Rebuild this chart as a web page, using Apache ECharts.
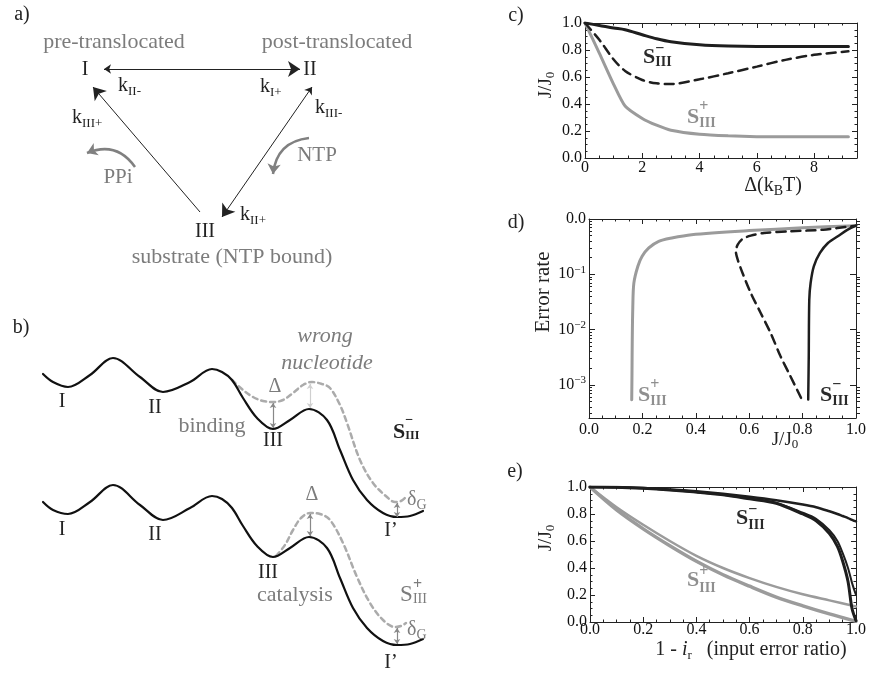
<!DOCTYPE html>
<html><head><meta charset="utf-8">
<script src="https://cdn.jsdelivr.net/npm/echarts@6/dist/echarts.min.js"></script>
<style>html,body{margin:0;padding:0;background:#fff;}#chart{width:869px;height:677px;}</style>
</head><body><div id="chart"></div>
<script>
const FONT = '"Liberation Serif","DejaVu Serif","Times New Roman",serif';

// ===== panel c : J/J0 versus Delta (kBT) =====
const cDelta  = [0, 0.5, 1, 1.4, 2, 2.5, 3, 4, 5, 6, 7, 8, 9.2];
const cSminus = [1.0, 0.982, 0.963, 0.95, 0.913, 0.883, 0.861, 0.839, 0.829, 0.826, 0.826, 0.826, 0.826];
const cMixed  = [1.0, 0.876, 0.73, 0.645, 0.578, 0.553, 0.548, 0.583, 0.628, 0.677, 0.727, 0.764, 0.79];
const cSplus  = [1.0, 0.777, 0.546, 0.385, 0.293, 0.243, 0.206, 0.176, 0.164, 0.158, 0.157, 0.157, 0.157];

// ===== panel d : error rate (log10) versus J/J0 =====
const dJPlus       = [0.160, 0.161, 0.162, 0.164, 0.168, 0.183, 0.199, 0.224, 0.261, 0.310, 0.384, 0.6, 0.8, 1.0];
const dLogErrPlus  = [-3.27, -2.8, -2.2, -1.6, -1.16, -0.855, -0.675, -0.524, -0.404, -0.343, -0.283, -0.21, -0.16, -0.12];
const dJMinus      = [0.821, 0.823, 0.825, 0.830, 0.842, 0.865, 0.895, 0.932, 0.969, 1.0];
const dLogErrMinus = [-3.265, -2.5, -1.458, -1.157, -0.855, -0.614, -0.434, -0.313, -0.193, -0.12];
const dJMixed      = [0.794, 0.754, 0.717, 0.680, 0.643, 0.606, 0.575, 0.557, 0.550, 0.557, 0.575, 0.606, 0.655, 0.754, 0.877, 1.0];
const dLogErrMixed = [-3.235, -2.84, -2.48, -2.06, -1.70, -1.34, -0.976, -0.735, -0.584, -0.464, -0.361, -0.301, -0.253, -0.223, -0.193, -0.12];
const dDecades     = [-3, -2, -1, 0];

// ===== panel e : J/J0 versus 1 - ir =====
const eXBlack   = [0, 0.1, 0.2, 0.3, 0.4, 0.5, 0.6, 0.7, 0.8, 0.85, 0.9, 0.93, 0.95, 0.97, 0.985, 1.0];
const eSminusA  = [1, 0.998, 0.992, 0.982, 0.968, 0.95, 0.928, 0.902, 0.87, 0.85, 0.82, 0.8, 0.785, 0.77, 0.757, 0.745];
const eSminusB  = [1, 0.998, 0.99, 0.978, 0.962, 0.942, 0.914, 0.882, 0.81, 0.765, 0.68, 0.6, 0.51, 0.4, 0.29, 0.2];
const eSminusC  = [1, 0.998, 0.99, 0.978, 0.962, 0.942, 0.912, 0.88, 0.8, 0.75, 0.655, 0.56, 0.45, 0.3, 0.1, 0.01];
const eXGray    = [0, 0.1, 0.2, 0.3, 0.4, 0.5, 0.6, 0.7, 0.8, 0.9, 1.0];
const eSplusA   = [1, 0.85, 0.72, 0.6, 0.49, 0.4, 0.325, 0.26, 0.205, 0.16, 0.115];
const eSplusB   = [1, 0.83, 0.69, 0.565, 0.45, 0.35, 0.265, 0.185, 0.12, 0.06, 0.005];

// ===== panel b : free-energy landscapes (diagram units) =====
const bTopSolid = [[43,374],[53,382],[68,387],[90,375],[113,358],[140,377],[163,392],[190,382],[212,369],[222,372],[232,380],[243,398],[257,418],[273,429],[290,420],[309,409],[327,420],[340,450],[353,480],[367,500],[383,513],[397,517],[410,516],[423,511]];
const bTopWrong = [[232,380],[243,390],[253,397],[263,401],[273,402],[283,400],[293,393],[303,385],[312,382],[322,384],[330,388],[340,405],[347,423],[360,460],[373,483],[387,497],[395,502],[401,501],[406,497]];
const bBotSolid = [[43,502],[53,510],[68,514],[90,502],[113,485],[140,505],[163,520],[190,508],[212,496],[222,499],[232,508],[243,526],[257,546],[273,557],[290,548],[309,537],[327,548],[340,578],[353,608],[367,628],[383,641],[397,645],[410,644],[423,639]];
const bBotWrong = [[276,556],[285,545],[293,530],[301,518],[310,513],[320,514],[330,520],[343,543],[357,577],[370,603],[383,620],[395,627],[401,626],[406,623]];
const bGapArrows   = [[[273,403],[273,428]], [[310,514],[310,536]], [[397,503],[397,517]], [[397,628],[397,644]]];
const bLightArrow  = [[[310,384],[310,408]]];

// ===== panel a : kinetic scheme =====
const aDoubleArrows = [[[104,69],[300,69]], [[312,87],[222,217]]];
const aSingleArrows = [[[200,212],[93,87]]];
const aCurvedArrows = [[[309,138],[273,174]], [[135,167],[87,153]]];

// ---------- helpers ----------
const axLine = {color:'#222', width:1};
function valAxis(o) {
  return Object.assign({
    type:'value', silent:true,
    axisLine:{show:true, onZero:false, lineStyle:axLine},
    axisTick:{show:true, inside:true, length:5, lineStyle:axLine},
    minorTick:{show:true, splitNumber:4, length:2.5, lineStyle:axLine},
    splitLine:{show:false}, minorSplitLine:{show:false},
    axisLabel:{show:false}
  }, o);
}
function tickLbl(fmt, margin, extra) {
  return Object.assign({show:true, formatter:fmt, margin:margin, fontFamily:FONT, fontSize:16, color:'#111'}, extra || {});
}
const f1 = v => (Math.abs(v*5 - Math.round(v*5)) < 1e-6 ? v.toFixed(1) : '');
const fEven = v => (Math.abs(v/2 - Math.round(v/2)) < 1e-6 ? String(Math.round(v)) : '');
const fDecade = v => {
  if (Math.abs(v) < 1e-9) return '{b|0.0}';
  return '{b|10}{p|' + '\u2212' + Math.round(-v) + '}';
};
const dMinor = [];
for (let n = -4; n < 0; n++) for (let k = 2; k <= 9; k++) {
  const t = n + Math.log10(k);
  if (t > -3.6 && t < 0) dMinor.push(t);
}

function txt(x, y, text, o) {
  o = o || {};
  const st = {
    text: text, fill: o.color || '#222',
    fontFamily: FONT, fontSize: o.size || 20, fontWeight: o.weight || 'normal', fontStyle: o.style || 'normal',
    align: o.align || 'center', verticalAlign: o.valign || 'middle'
  };
  if (o.rich) st.rich = o.rich;
  return {type:'text', x:x, y:y, rotation:o.rot || 0, z:50, silent:true, style:st};
}
function R(size, color, extra) {
  return Object.assign({fontFamily:FONT, fontSize:size, fill:color, color:color, lineHeight:size+4}, extra || {});
}
function subRich(main, sub, color, extraMain) {
  return {m:R(main, color, extraMain), s:R(sub, color, {lineHeight:10, verticalAlign:'bottom'})};
}
function kLabel(x, y, sub) {
  return txt(x, y, '{m|k}{s|' + sub + '}', {align:'left', rich:subRich(20, 13, '#222')});
}
function sLabel(x, yc, sign, color, fs, ss, bold, dSign, dSub) {
  const w = fs * 0.56;
  return [
    txt(x, yc, 'S', {size:fs, weight:bold ? 'bold' : 'normal', color:color, align:'left'}),
    txt(x + w, yc + dSign, sign, {size:ss + 2, weight:'bold', color:color, align:'left'}),
    txt(x + w, yc + dSub, 'III', {size:ss, weight:bold ? 'bold' : 'normal', color:color, align:'left'})
  ];
}

const BLACK = '#1e1e1e', GRAY = '#9b9b9b', TGRAY = '#7c7c7c';
const pairs = (xs, ys) => xs.map((x, i) => [x, ys[i]]);
function pLine(xi, yi, data, color, width, type, smooth) {
  return {type:'line', xAxisIndex:xi, yAxisIndex:yi, data:data, showSymbol:false, symbol:'none',
    smooth: smooth == null ? 0.3 : smooth, silent:true, animation:false,
    lineStyle:{color:color, width:width, type:type || 'solid', cap:'round'}, z:3};
}
function arrowSeries(list, sym, size, color, width, curv) {
  return {type:'lines', coordinateSystem:'cartesian2d', xAxisIndex:0, yAxisIndex:0, silent:true, animation:false,
    symbol:sym, symbolSize:size, z:4,
    lineStyle:{color:color, width:width, opacity:1, curveness:curv || 0},
    data:list.map(c => ({coords:c}))};
}

const graphics = [].concat(
  // panel labels
  txt(22, 15, 'a)', {size:20}), txt(21, 328, 'b)', {size:20}),
  txt(516, 16, 'c)', {size:20}), txt(516, 223, 'd)', {size:20}), txt(515, 472, 'e)', {size:20}),
  // panel a
  txt(114, 42, 'pre-translocated', {size:22, color:TGRAY}),
  txt(337, 42, 'post-translocated', {size:22, color:TGRAY}),
  txt(85, 70, 'I', {size:20}), txt(310, 70, 'II', {size:20}), txt(205, 232, 'III', {size:20}),
  kLabel(118, 86, 'II-'), kLabel(260, 87, 'I+'), kLabel(315, 108, 'III-'), kLabel(72, 118, 'III+'), kLabel(240, 215, 'II+'),
  txt(317, 155, 'NTP', {size:21, color:TGRAY}),
  txt(118, 177, 'PPi', {size:21, color:TGRAY}),
  txt(232, 257, 'substrate (NTP bound)', {size:22, color:TGRAY}),
  // panel b, top landscape
  txt(62, 402, 'I', {size:20}), txt(155, 408, 'II', {size:20}),
  txt(212, 426, 'binding', {size:22, color:TGRAY}),
  txt(273, 441, 'III', {size:20}),
  txt(275, 387, '\u0394', {size:20, color:TGRAY}),
  txt(325, 336, 'wrong', {size:22, color:TGRAY, style:'italic'}),
  txt(327, 363, 'nucleotide', {size:22, color:TGRAY, style:'italic'}),
  sLabel(393, 432, '\u2212', '#222', 22, 12, true, -12, 4),
  txt(407, 500, '{m|\u03b4}{s|G}', {align:'left', rich:subRich(20, 14, TGRAY)}),
  txt(391, 531, 'I\u2019', {size:20}),
  // panel b, bottom landscape
  txt(62, 530, 'I', {size:20}), txt(155, 535, 'II', {size:20}),
  txt(268, 573, 'III', {size:20}),
  txt(257, 595, 'catalysis', {size:22, color:TGRAY, align:'left'}),
  txt(312, 495, '\u0394', {size:20, color:TGRAY}),
  sLabel(400, 595, '+', TGRAY, 23, 14, false, -10, 4),
  txt(407, 630, '{m|\u03b4}{s|G}', {align:'left', rich:subRich(20, 14, TGRAY)}),
  txt(391, 663, 'I\u2019', {size:20}),
  // panel c
  txt(546, 85, '{m|J/J}{s|0}', {rot:Math.PI/2, rich:subRich(19, 13, '#222')}),
  txt(773, 186, '{m|\u0394(k}{b|B}{m|T)}', {rich:{m:R(20, '#222'), b:R(14, '#222', {lineHeight:19, verticalAlign:'bottom'})}}),
  sLabel(643, 57.5, '\u2212', '#2a2a2a', 22, 14, true, -9, 5),
  sLabel(687, 117.5, '+', '#8f8f8f', 22, 14, true, -10.5, 5.5),
  // panel d
  txt(543, 292, 'Error rate', {size:21, rot:Math.PI/2}),
  txt(785, 440, '{m|J/J}{s|0}', {rich:subRich(19, 13, '#222')}),
  sLabel(638, 395.5, '+', '#8f8f8f', 22, 14, true, -10.5, 5.5),
  sLabel(820, 395.5, '\u2212', '#2a2a2a', 22, 14, true, -10.5, 5.5),
  // panel e
  txt(546, 538, '{m|J/J}{s|0}', {rot:Math.PI/2, rich:subRich(19, 13, '#222')}),
  txt(751, 650, '{m|1 - }{i|i}{s|r}{m|   (input error ratio)}', {rich:{m:R(20, '#222'), i:R(20, '#222', {fontStyle:'italic'}), s:R(13, '#222', {lineHeight:10, verticalAlign:'bottom'})}}),
  sLabel(736, 518.5, '\u2212', '#2a2a2a', 22, 14, true, -8.5, 6.5),
  sLabel(687, 580.5, '+', '#8f8f8f', 22, 14, true, -8.5, 7.5)
);

const option = {
  backgroundColor:'#ffffff',
  animation:false,
  grid:[
    {left:0, top:0, width:869, height:677},
    {left:585, top:23, width:272, height:135},
    {left:589, top:219, width:271, height:199},
    {left:590, top:487, width:271, height:135},
    {left:589, top:219, width:271, height:199}
  ],
  xAxis:[
    {type:'value', gridIndex:0, min:0, max:869, show:false},
    valAxis({gridIndex:1, min:0, max:9.5, interval:2, position:'bottom', axisLabel:tickLbl(fEven, 2)}),
    valAxis({gridIndex:1, min:0, max:9.5, interval:2, position:'top'}),
    valAxis({gridIndex:2, min:0, max:1, interval:0.2, position:'bottom', axisLabel:tickLbl(f1, 4)}),
    valAxis({gridIndex:2, min:0, max:1, interval:0.2, position:'top'}),
    valAxis({gridIndex:3, min:0, max:1, interval:0.2, position:'bottom', axisLabel:tickLbl(f1, 0)}),
    valAxis({gridIndex:3, min:0, max:1, interval:0.2, position:'top'}),
    {type:'value', gridIndex:4, min:0, max:1, show:false}
  ],
  yAxis:[
    {type:'value', gridIndex:0, min:0, max:677, inverse:true, show:false},
    valAxis({gridIndex:1, min:0, max:1, interval:0.2, position:'left', axisLabel:tickLbl(f1, 3)}),
    valAxis({gridIndex:1, min:0, max:1, interval:0.2, position:'right'}),
    valAxis({gridIndex:2, min:-3.6, max:0, position:'left',
      axisTick:{show:true, inside:true, length:6, lineStyle:axLine, customValues:dDecades},
      minorTick:{show:false},
      axisLabel:tickLbl(fDecade, 3, {customValues:dDecades,
        rich:{b:R(16, '#111', {lineHeight:20}), p:R(11, '#111', {lineHeight:12, verticalAlign:'top'})}})}),
    valAxis({gridIndex:2, min:-3.6, max:0, position:'right',
      axisTick:{show:true, inside:true, length:6, lineStyle:axLine, customValues:dDecades},
      minorTick:{show:false}}),
    valAxis({gridIndex:3, min:0, max:1, interval:0.2, position:'left', axisLabel:tickLbl(f1, 3)}),
    valAxis({gridIndex:3, min:0, max:1, interval:0.2, position:'right'}),
    valAxis({gridIndex:4, min:-3.6, max:0, position:'left', axisLine:{show:false},
      axisTick:{show:true, inside:true, length:3, lineStyle:axLine, customValues:dMinor}, minorTick:{show:false}}),
    valAxis({gridIndex:4, min:-3.6, max:0, position:'right', axisLine:{show:false},
      axisTick:{show:true, inside:true, length:3, lineStyle:axLine, customValues:dMinor}, minorTick:{show:false}})
  ],
  series:[
    // panel b landscapes
    pLine(0, 0, bTopWrong, '#ababab', 2.5, [5, 4], 0.35),
    pLine(0, 0, bTopSolid, '#111', 2.2, 'solid', 0.35),
    pLine(0, 0, bBotWrong, '#ababab', 2.5, [5, 4], 0.35),
    pLine(0, 0, bBotSolid, '#111', 2.2, 'solid', 0.35),
    arrowSeries(bGapArrows, ['arrow', 'arrow'], 5, '#888', 1.2),
    arrowSeries(bLightArrow, ['arrow', 'arrow'], 5, '#cfcfcf', 1.2),
    // panel a arrows
    arrowSeries(aDoubleArrows, ['arrow', 'arrow'], [7, 12], '#222', 1),
    arrowSeries(aSingleArrows, ['none', 'arrow'], 12, '#222', 1),
    arrowSeries(aCurvedArrows, ['none', 'arrow'], 10, '#808080', 2.5, -0.4),
    // panel c
    pLine(1, 1, pairs(cDelta, cSplus), GRAY, 3, 'solid', 0.2),
    pLine(1, 1, pairs(cDelta, cMixed), BLACK, 2.5, [9, 6], 0.3),
    pLine(1, 1, pairs(cDelta, cSminus), BLACK, 3, 'solid', 0.3),
    // panel d
    pLine(3, 3, pairs(dJPlus, dLogErrPlus), GRAY, 3, 'solid', 0.3),
    pLine(3, 3, pairs(dJMixed, dLogErrMixed), BLACK, 2.5, [9, 6], 0.3),
    pLine(3, 3, pairs(dJMinus, dLogErrMinus), BLACK, 2.5, 'solid', 0.3),
    // panel e
    pLine(5, 5, pairs(eXGray, eSplusA), GRAY, 2.5, 'solid', 0.3),
    pLine(5, 5, pairs(eXGray, eSplusB), GRAY, 3.5, 'solid', 0.3),
    pLine(5, 5, pairs(eXBlack, eSminusA), BLACK, 2.5, 'solid', 0.3),
    pLine(5, 5, pairs(eXBlack, eSminusB), BLACK, 2, 'solid', 0.3),
    pLine(5, 5, pairs(eXBlack, eSminusC), BLACK, 3, 'solid', 0.3)
  ],
  graphic:{elements:graphics}
};

const chart = echarts.init(document.getElementById('chart'), null, {renderer:'canvas'});
chart.setOption(option);
</script>
</body></html>
